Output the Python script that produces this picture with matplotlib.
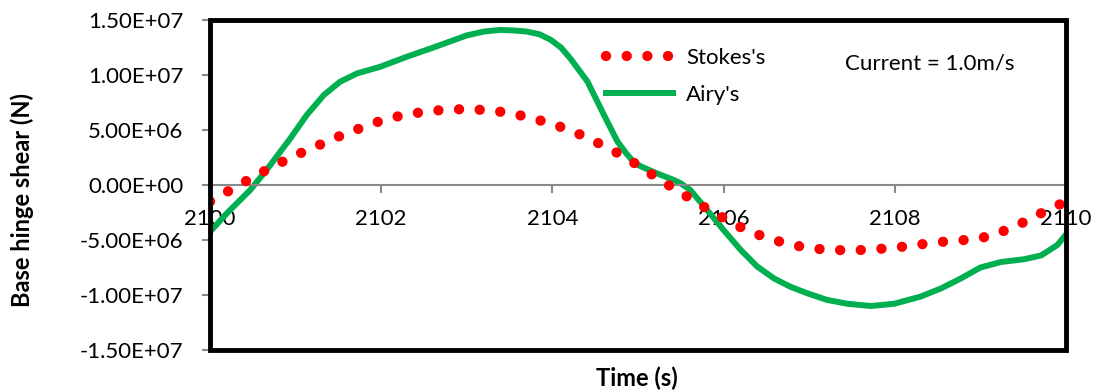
import matplotlib
matplotlib.use("Agg")
import matplotlib.pyplot as plt
from matplotlib.patches import Rectangle

# 時刻 (s) と基部ヒンジせん断力 (N) — 図から読み取り
time = [2100.00, 2100.25, 2100.50, 2100.75, 2101.00, 2101.25, 2101.50, 2101.75,
        2102.00, 2102.25, 2102.50, 2102.75, 2103.00, 2103.25, 2103.50, 2103.75,
        2104.00, 2104.25, 2104.50, 2104.75, 2105.00, 2105.25, 2105.50, 2105.75,
        2106.00, 2106.25, 2106.50, 2106.75, 2107.00, 2107.25, 2107.50, 2107.75,
        2108.00, 2108.25, 2108.50, 2108.75, 2109.00, 2109.25, 2109.50, 2109.75,
        2110.00]
stokes = [-1.5e6, -0.4e6, 0.7e6, 1.75e6, 2.7e6, 3.55e6, 4.4e6, 5.15e6,
          5.85e6, 6.35e6, 6.65e6, 6.85e6, 6.9e6, 6.8e6, 6.55e6, 6.1e6,
          5.55e6, 4.85e6, 3.95e6, 2.95e6, 1.8e6, 0.5e6, -0.7e6, -1.9e6,
          -3.0e6, -4.05e6, -4.8e6, -5.35e6, -5.75e6, -5.9e6, -5.95e6, -5.85e6,
          -5.7e6, -5.45e6, -5.2e6, -5.05e6, -4.85e6, -4.25e6, -3.4e6, -2.4e6,
          -1.5e6]

# Airy は曲率の大きい所で細かく読み取った点
time_airy = [2100.00, 2100.20, 2100.47, 2100.66, 2100.94, 2101.13, 2101.33, 2101.52,
             2101.72, 2101.99, 2102.30, 2102.61, 2103.00, 2103.20, 2103.39, 2103.55,
             2103.70, 2103.85, 2103.98, 2104.10, 2104.21, 2104.41, 2104.60, 2104.76,
             2104.87, 2104.95, 2105.03, 2105.22, 2105.42, 2105.50, 2105.61, 2105.81,
             2106.00, 2106.20, 2106.39, 2106.59, 2106.78, 2106.98, 2107.21, 2107.45,
             2107.72, 2107.99, 2108.30, 2108.54, 2108.77, 2109.00, 2109.24, 2109.51,
             2109.71, 2109.90, 2110.00]
airy = [-4.25e6, -2.55e6, -0.45e6, 1.36e6, 4.25e6, 6.36e6, 8.18e6, 9.39e6,
        10.15e6, 10.75e6, 11.66e6, 12.5e6, 13.6e6, 13.95e6, 14.1e6, 14.05e6,
        13.95e6, 13.7e6, 13.2e6, 12.5e6, 11.5e6, 9.4e6, 6.4e6, 3.95e6,
        2.8e6, 2.1e6, 1.7e6, 1.06e6, 0.45e6, 0.15e6, -0.45e6, -2.3e6,
        -4.1e6, -5.9e6, -7.4e6, -8.5e6, -9.25e6, -9.85e6, -10.45e6, -10.8e6,
        -11.0e6, -10.8e6, -10.15e6, -9.4e6, -8.5e6, -7.5e6, -7.0e6, -6.75e6,
        -6.4e6, -5.45e6, -4.5e6]

xticks = [2100, 2102, 2104, 2106, 2108, 2110]
yticks = [-1.5e7, -1.0e7, -5.0e6, 0.0, 5.0e6, 1.0e7, 1.5e7]

plt.rcParams["font.family"] = ["Lato", "DejaVu Sans"]

fig = plt.figure(figsize=(11.02, 3.92), dpi=100)
ax = fig.add_axes([210 / 1102, 1 - 350 / 392, (1066 - 210) / 1102, 330 / 392])

ax.plot(time, stokes, color="#FF0000", lw=7.4, linestyle=(0, (0.01, 2.0)),
        dash_capstyle="round", label="Stokes's", zorder=3)
ax.plot(time_airy, airy, color="#00B050", lw=4.3, label="Airy's", zorder=2,
        solid_joinstyle="round")

ax.set_xlim(2100, 2110)
ax.set_ylim(-1.5e7, 1.5e7)
ax.set_xticks(xticks)
ax.set_yticks(yticks)
ax.set_yticklabels([f"{v:.2E}" for v in yticks])

# x軸は y=0 の位置, 枠は黒の太線
ax.spines["bottom"].set_position(("data", 0))
for s in ["bottom", "left"]:
    ax.spines[s].set_color("#888888")
    ax.spines[s].set_linewidth(1.5)
for s in ["top", "right"]:
    ax.spines[s].set_visible(False)
ax.add_patch(Rectangle((0, 0), 1, 1, transform=ax.transAxes, fill=False,
                       ec="black", lw=3.5, clip_on=False, zorder=5))

ax.tick_params(axis="x", direction="out", length=6, width=1.5, color="#888888",
               pad=11, labelsize=16)
ax.tick_params(axis="y", direction="out", length=6, width=1.5, color="#888888",
               pad=13, labelsize=16)

fig.text(22 / 1102, 1 - 200 / 392, "Base hinge shear (N)", rotation=90,
         ha="center", va="center", fontsize=17, fontweight="bold")
fig.text(637 / 1102, 1 - 378 / 392, "Time (s)", ha="center", va="center",
         fontsize=17, fontweight="bold")
fig.text(845 / 1102, 1 - 63 / 392, "Current = 1.0m/s", ha="left", va="center",
         fontsize=16)

ax.legend(loc="upper left", bbox_to_anchor=(606 / 1102, 1 - 48 / 392),
          bbox_transform=fig.transFigure, frameon=False, fontsize=16,
          handlelength=3.0, handletextpad=0.6, labelspacing=0.75,
          borderpad=0, borderaxespad=0)

fig.savefig("out.png", dpi=100)
